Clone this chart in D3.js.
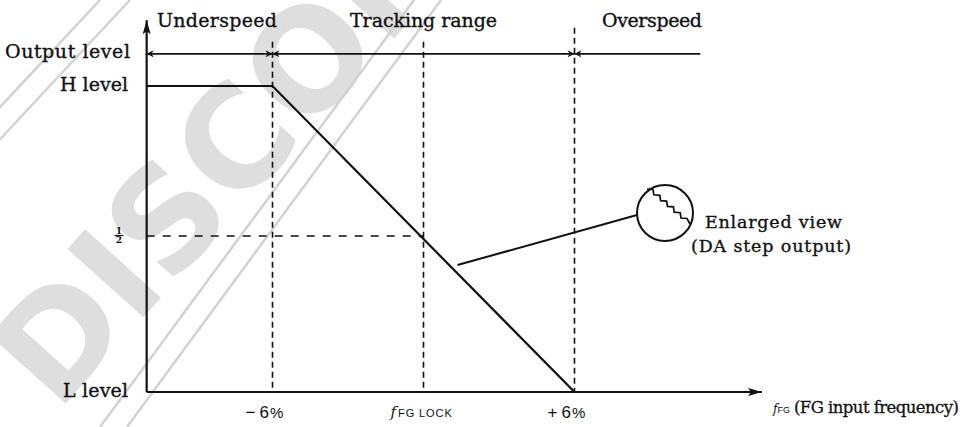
<!DOCTYPE html>
<html><head><meta charset="utf-8">
<script src="https://cdn.jsdelivr.net/npm/d3@7"></script>
<style>body{margin:0;background:#fff}svg{display:block}</style>
</head><body><svg id="c" width="968" height="427"></svg>
<script>
// ---- data ----
const levelNames = ["L level", "1/2", "H level"];
const levelValues = [0, 0.5, 1];
const tickValues = [-6, 0, 6];
const tickLabels = ["−6%", "fFG LOCK", "+6%"];
const outputX = [-11, -6, 6];
const outputY = [1, 1, 0];
const rangeNames = ["Underspeed", "Tracking range", "Overspeed"];
const rangeStart = [-11, -6, 6];
const rangeEnd = [-6, 6, 11];
const leaderFrom = [1.35, 0.415];
const stepLevels = [0, 1, 2, 3, 4, 5];

const svg = d3.select("#c");
const x = d3.scaleLinear().domain([-6, 6]).range([272.5, 574.5]);
const y = d3.scaleLinear().domain([0, 1]).range([392, 86]);
const serif = "'DejaVu Serif', serif";
const sans = "'Liberation Sans', Arial, sans-serif";
const ink = "#111";

// ---- watermark ----
svg.append("text").attr("transform", "translate(57,413) rotate(-48)")
  .attr("fill", "#dedede")
  .attr("font-family", "'DejaVu Sans', sans-serif").attr("font-weight", "bold")
  .attr("font-size", 140).text("DISCONTINUED");
const stripes = [[[-40,150],[100,0]],[[-10,150],[130,0]],[[100,427],[414,0]],[[127,427],[441,0]]];
svg.append("g").selectAll("line").data(stripes).join("line")
  .attr("x1", d => d[0][0]).attr("y1", d => d[0][1]).attr("x2", d => d[1][0]).attr("y2", d => d[1][1])
  .attr("stroke", "#d2d2d2").attr("stroke-width", 2.5);

// ---- defs ----
const defs = svg.append("defs");
defs.append("marker").attr("id", "ah").attr("viewBox", "0 0 10 10").attr("refX", 10).attr("refY", 5)
  .attr("markerWidth", 10).attr("markerHeight", 7).attr("markerUnits", "userSpaceOnUse")
  .attr("orient", "auto-start-reverse")
  .append("path").attr("d", "M0,0 L10,5 L0,10 L3,5 Z").attr("fill", ink);
defs.append("marker").attr("id", "big").attr("viewBox", "0 0 14 8").attr("refX", 14).attr("refY", 4)
  .attr("markerWidth", 14).attr("markerHeight", 8).attr("markerUnits", "userSpaceOnUse")
  .attr("orient", "auto")
  .append("path").attr("d", "M0,0 L14,4 L0,8 L3,4 Z").attr("fill", ink);

// ---- dashed guides ----
const guideTop = [1.145, 1.145, 1.19];
svg.append("g").selectAll("line").data(tickValues).join("line")
  .attr("x1", d => x(d)).attr("x2", d => x(d))
  .attr("y1", (d, i) => y(guideTop[i])).attr("y2", y(0))
  .attr("stroke", ink).attr("stroke-width", 1.6).attr("stroke-dasharray", "6,4");
svg.append("line").attr("x1", x(-11)).attr("x2", x(0)).attr("y1", y(0.5) - 3).attr("y2", y(0.5) - 3)
  .attr("stroke", ink).attr("stroke-width", 1.6).attr("stroke-dasharray", "8,8");

// ---- axes ----
svg.append("line").attr("x1", x(-11)).attr("y1", y(0)).attr("x2", x(-11)).attr("y2", y(1.215))
  .attr("stroke", ink).attr("stroke-width", 2.2).attr("marker-end", "url(#big)");
svg.append("line").attr("x1", x(-11)).attr("y1", y(0)).attr("x2", x(13.45)).attr("y2", y(0))
  .attr("stroke", ink).attr("stroke-width", 2).attr("marker-end", "url(#big)");

// ---- output characteristic ----
const pts = outputX.map((v, i) => [v, outputY[i]]);
svg.append("path").datum(pts)
  .attr("d", d3.line().x(d => x(d[0])).y(d => y(d[1])))
  .attr("fill", "none").attr("stroke", ink).attr("stroke-width", 2.2);

// ---- range arrows ----
const rowY = y(1.105);
svg.append("g").selectAll("line").data(rangeNames).join("line")
  .attr("x1", (d, i) => x(rangeStart[i])).attr("x2", (d, i) => x(rangeEnd[i]))
  .attr("y1", rowY).attr("y2", rowY)
  .attr("stroke", ink).attr("stroke-width", 1.8)
  .attr("marker-start", "url(#ah)")
  .attr("marker-end", (d, i) => i < 2 ? "url(#ah)" : null);

const lab = svg.append("g").attr("font-family", serif).attr("font-size", 19)
  .attr("fill", ink).attr("stroke", ink).attr("stroke-width", 0.35);
const rangeLabelX = [157, 350, 602];
const rangeLabelW = [120, 147, 100];
lab.selectAll("text.r").data(rangeNames).join("text").attr("class", "r")
  .attr("x", (d, i) => rangeLabelX[i]).attr("y", 27)
  .attr("textLength", (d, i) => rangeLabelW[i]).text(d => d);

// ---- y labels ----
lab.append("text").attr("x", 130).attr("y", 58).attr("text-anchor", "end")
  .attr("textLength", 125).text("Output level");
const levelW = [65, 0, 68];
levelNames.forEach((n, i) => {
  const yy = y(levelValues[i]);
  if (n === "1/2") {
    const g = svg.append("g").attr("font-family", serif).attr("font-size", 9).attr("fill", ink)
      .attr("text-anchor", "middle").attr("font-weight", "bold");
    g.append("text").attr("x", 119).attr("y", yy - 5).text("1");
    g.append("line").attr("x1", 114.5).attr("x2", 123.5).attr("y1", yy - 3.5).attr("y2", yy - 3.5)
      .attr("stroke", ink).attr("stroke-width", 1.2);
    g.append("text").attr("x", 119).attr("y", yy + 4).text("2");
  } else {
    lab.append("text").attr("x", 128).attr("y", yy + 5).attr("text-anchor", "end")
      .attr("textLength", levelW[i]).text(n);
  }
});

// ---- x tick labels ----
const xl = svg.append("g").attr("fill", ink);
tickLabels.forEach((t, i) => {
  const xx = x(tickValues[i]);
  if (t.startsWith("f")) {
    const tx = xl.append("text").attr("x", xx - 33).attr("y", 417).attr("font-family", sans);
    tx.append("tspan").attr("font-family", serif).attr("font-style", "italic").attr("font-size", 15).text("f");
    tx.append("tspan").attr("font-size", 11).attr("dx", 2).attr("letter-spacing", 0.9).text("FG LOCK");
  } else {
    const tx = xl.append("text").attr("x", xx - 27).attr("y", 418)
      .attr("font-family", sans).attr("font-size", 17);
    tx.append("tspan").text(t[0]);
    tx.append("tspan").attr("dx", 4).text(t.slice(1, -1));
    tx.append("tspan").attr("dx", 1).attr("font-size", 15).text("%");
  }
});
const xt = xl.append("text").attr("x", 773).attr("y", 413).attr("font-family", serif);
xt.append("tspan").attr("font-style", "italic").attr("font-size", 12).text("f");
xt.append("tspan").attr("font-family", sans).attr("font-size", 9).text("FG");
xt.append("tspan").attr("font-size", 16.5).attr("dx", 4).attr("textLength", 165)
  .attr("stroke", ink).attr("stroke-width", 0.3).text("(FG input frequency)");

// ---- enlarged view ----
const cx = 665, cy = 213, r = 28;
svg.append("line").attr("x1", x(leaderFrom[0])).attr("y1", y(leaderFrom[1]))
  .attr("x2", cx - r).attr("y2", cy + 2).attr("stroke", ink).attr("stroke-width", 2);
svg.append("circle").attr("cx", cx).attr("cy", cy).attr("r", r)
  .attr("fill", "#fff").attr("stroke", ink).attr("stroke-width", 2);
const sx = d3.scaleLinear().domain([0, 5]).range([cx - 18, cx + 16]);
const sy = d3.scaleLinear().domain([0, 5]).range([cy - 24, cy + 5]);
const stair = [];
stepLevels.forEach((s) => {
  stair.push([sx(s), sy(s)]);
  stair.push([sx(s) + 6, sy(s) + 0.5]);
});
stair.push([cx + 25, cy + 11]);
svg.append("path").attr("d", d3.line()(stair)).attr("fill", "none")
  .attr("stroke", ink).attr("stroke-width", 1.7).attr("stroke-linejoin", "miter");
lab.append("text").attr("x", 705).attr("y", 228).attr("textLength", 137)
  .attr("font-size", 17.5).text("Enlarged view");
lab.append("text").attr("x", 691).attr("y", 252).attr("textLength", 160)
  .attr("font-size", 17.5).text("(DA step output)");
</script></body></html>
